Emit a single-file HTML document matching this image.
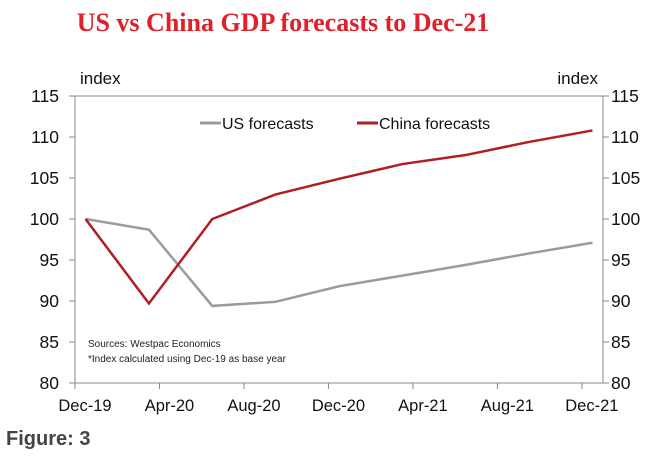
<!DOCTYPE html>
<html><head><meta charset="utf-8"><style>
body{margin:0;background:#fff;width:672px;height:465px;overflow:hidden}
svg text{font-family:"Liberation Sans",sans-serif}
</style></head><body>
<svg width="672" height="465">
<text x="283" y="31" text-anchor="middle" fill="#e0202a" style="font-family:'Liberation Serif',serif;font-weight:bold;font-size:26px">US vs China GDP forecasts to Dec-21</text>
<text x="6" y="445" fill="#444" style="font-weight:bold;font-size:20px">Figure: 3</text>
<g id="g"></g>
</svg>
<script>
const categories=["Dec-19","Mar-20","Jun-20","Sep-20","Dec-20","Mar-21","Jun-21","Sep-21","Dec-21"];
const monthIndex=[0,3,6,9,12,15,18,21,24];
const usValues=[100,98.7,89.4,89.9,91.8,93.1,94.4,95.8,97.1];
const chinaValues=[100,89.7,100,103,104.9,106.7,107.8,109.4,110.8];
const yTicks=[80,85,90,95,100,105,110,115];
const xTickLabels=["Dec-19","Apr-20","Aug-20","Dec-20","Apr-21","Aug-21","Dec-21"];
const NS="http://www.w3.org/2000/svg",g=document.getElementById('g');
const L=75,R=603,T=96,B=383,MW=(R-L)/25;
const x=m=>L+(m+0.5)*MW, xt=m=>L+m*MW, y=v=>B-(v-80)/35*(B-T);
function el(t,a,txt){const e=document.createElementNS(NS,t);for(const k in a)e.setAttribute(k,a[k]);if(txt!=null)e.textContent=txt;g.appendChild(e);return e;}
const frame=el('path',{d:`M${L} ${B}V${T}H${R}V${B}Z`,fill:'none',stroke:'#888','stroke-width':1});


yTicks.forEach(v=>{
 const t1=el('line',{x1:L-6,x2:L,y1:y(v),y2:y(v),stroke:'#888'});
 
 
 const t2=el('line',{x1:R,x2:R+6,y1:y(v),y2:y(v),stroke:'#888'});
 
 
 const a=el('text',{x:59,y:y(v)+6,'text-anchor':'end','font-size':17.5,fill:'#111'},v);
 
 
 const b=el('text',{x:611,y:y(v)+6,'font-size':17.5,fill:'#111'},v);
 
 
});
xTickLabels.forEach((s,i)=>{
 const t=el('line',{x1:xt(i*4),x2:xt(i*4),y1:B,y2:B+6,stroke:'#888'});
 
 
 const a=el('text',{x:xt(i*4)+10,y:411,'text-anchor':'middle','font-size':16.5,fill:'#111'},s);
 
 
});
const i1=el('text',{x:80,y:84,'font-size':17,fill:'#111'},'index');


const i2=el('text',{x:598,y:84,'text-anchor':'end','font-size':17,fill:'#111'},'index');


function line(vals,col,name){
 const p=el('polyline',{points:vals.map((v,i)=>x(monthIndex[i])+','+y(v)).join(' '),fill:'none',stroke:col,'stroke-width':2.5,'stroke-linejoin':'miter'});
 
 
}
line(usValues,'#9b9b9b','us-forecasts-line');
line(chinaValues,'#b01e23','china-forecasts-line');
const l1=el('line',{x1:200,x2:221,y1:123,y2:123,stroke:'#9b9b9b','stroke-width':3});


const lt1=el('text',{x:222,y:129,'font-size':16,fill:'#111'},'US forecasts');


const l2=el('line',{x1:357,x2:378,y1:123,y2:123,stroke:'#b01e23','stroke-width':3});


const lt2=el('text',{x:379,y:129,'font-size':16,fill:'#111'},'China forecasts');


const s1=el('text',{x:88,y:347,'font-size':10,fill:'#222'},'Sources: Westpac Economics');


const s2=el('text',{x:88,y:362,'font-size':10,fill:'#222'},'*Index calculated using Dec-19 as base year');


</script>
</body></html>
